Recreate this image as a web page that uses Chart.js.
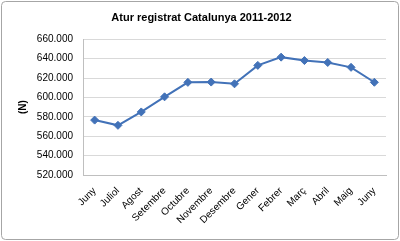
<!DOCTYPE html>
<html>
<head>
<meta charset="utf-8">
<script src="https://cdn.jsdelivr.net/npm/chart.js@4"></script>
<style>
  html, body { margin: 0; padding: 0; background: #fff; }
  #wrap { width: 400px; height: 241px; position: relative; }
</style>
</head>
<body>
<div id="wrap"><canvas id="chart" width="400" height="241"></canvas></div>
<script>
const months = ['Juny', 'Juliol', 'Agost', 'Setembre', 'Octubre', 'Novembre', 'Desembre',
                'Gener', 'Febrer', 'Març', 'Abril', 'Maig', 'Juny'];
const aturValues = [576600, 571200, 585000, 600600, 615500, 615800, 614000,
                    633000, 641500, 638000, 636000, 631000, 615600];
const yMin = 520000;
const yMax = 660000;
const yStep = 20000;

const font = "'Liberation Sans', Arial, sans-serif";

// number with dot as thousands separator (660.000)
function fmt(v) {
    return String(Math.round(v)).replace(/\B(?=(\d{3})+(?!\d))/g, '.');
}

// rounded grey frame round the whole chart, like the Excel export
const framePlugin = {
    id: 'frame',
    beforeDraw(chart) {
        const c = chart.ctx;
        c.save();
        c.fillStyle = '#fff';
        c.fillRect(0, 0, chart.width, chart.height);
        c.strokeStyle = '#a6a6a6';
        c.lineWidth = 1;
        c.beginPath();
        c.roundRect(1.5, 1.5, chart.width - 3, chart.height - 3, 4);
        c.stroke();
        c.restore();
    }
};

const ctx = document.getElementById('chart').getContext('2d');
new Chart(ctx, {
    type: 'line',
    data: {
        labels: months,
        datasets: [{
            label: 'Atur registrat',
            data: aturValues,
            borderColor: '#4272b8',
            backgroundColor: '#4272b8',
            borderWidth: 2,
            pointStyle: 'rectRot',
            pointRadius: 4,
            pointBorderWidth: 1,
            tension: 0,
            fill: false
        }]
    },
    options: {
        responsive: false,
        animation: false,
        layout: { padding: { top: 0, left: 17, right: 14, bottom: 0 } },
        plugins: {
            legend: { display: false },
            tooltip: { enabled: false },
            title: {
                display: true,
                text: 'Atur registrat Catalunya 2011-2012',
                color: '#000',
                font: { family: font, size: 11, weight: 'bold' },
                padding: { top: 11, bottom: 15 }
            }
        },
        scales: {
            x: {
                offset: true,
                grid: { display: false, drawTicks: false },
                border: { color: '#bfbfbf' },
                ticks: {
                    color: '#000',
                    font: { family: font, size: 10 },
                    minRotation: 45,
                    maxRotation: 45,
                    padding: 10,
                    autoSkip: false
                },
                afterFit(scale) { scale.height = 66; }
            },
            y: {
                min: yMin,
                max: yMax,
                grid: { color: '#d9d9d9', drawTicks: false },
                border: { color: '#bfbfbf' },
                ticks: {
                    stepSize: yStep,
                    color: '#000',
                    padding: 10,
                    font: { family: font, size: 10 },
                    callback: v => fmt(v)
                },
                title: {
                    display: true,
                    text: '(N)',
                    color: '#000',
                    font: { family: font, size: 10, weight: 'bold' },
                    padding: 0
                },
                afterFit(scale) { scale.width = 66; }
            }
        }
    },
    plugins: [framePlugin]
});
</script>
</body>
</html>
